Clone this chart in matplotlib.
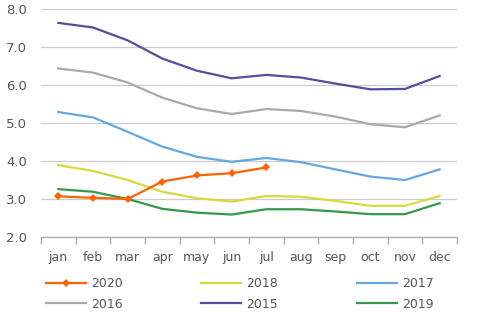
import matplotlib
matplotlib.use("Agg")
import matplotlib.pyplot as plt
import numpy as np

months = ["jan", "feb", "mar", "apr", "may", "jun", "jul", "aug", "sep", "oct", "nov", "dec"]

y2015 = [7.64, 7.52, 7.18, 6.70, 6.38, 6.18, 6.27, 6.20, 6.04, 5.89, 5.90, 6.24]
y2016 = [6.44, 6.33, 6.07, 5.67, 5.39, 5.24, 5.37, 5.32, 5.17, 4.97, 4.89, 5.20]
y2017 = [5.29, 5.15, 4.77, 4.38, 4.11, 3.98, 4.08, 3.97, 3.78, 3.59, 3.50, 3.78]
y2018 = [3.89, 3.74, 3.50, 3.19, 3.02, 2.93, 3.08, 3.06, 2.95, 2.82, 2.82, 3.08]
y2019 = [3.26, 3.19, 3.00, 2.74, 2.64, 2.59, 2.73, 2.73, 2.67, 2.60, 2.60, 2.89]
y2020 = [3.07, 3.03, 3.00, 3.46, 3.62, 3.68, 3.83]

text_color = "#555555"
plt.rcParams["font.family"] = ["DejaVu Sans"]

fig = plt.figure(figsize=(4.8, 3.3), dpi=100)
ax = fig.add_axes([0.0854, 0.282, 0.8666, 0.69])

x = np.arange(len(months))
l2015, = ax.plot(x, y2015, color="#524f9e", lw=1.6, label="2015")
l2016, = ax.plot(x, y2016, color="#a9a9a9", lw=1.6, label="2016")
l2017, = ax.plot(x, y2017, color="#63a9df", lw=1.6, label="2017")
l2018, = ax.plot(x, y2018, color="#d3dc3e", lw=1.6, label="2018")
l2019, = ax.plot(x, y2019, color="#33994a", lw=1.6, label="2019")
l2020, = ax.plot(x[:len(y2020)], y2020, color="#ff6200", lw=1.6, marker="D",
                 markersize=4.5, markeredgewidth=0, label="2020")

ax.set_xlim(-0.5, 11.5)
ax.set_ylim(2.0, 8.0)
ax.set_yticks(np.arange(2, 8.1, 1))
ax.set_yticklabels([f"{v:.1f}" for v in np.arange(2, 8.1, 1)])
ax.grid(axis="y", color="#cccccc", lw=0.9)
ax.set_axisbelow(True)

ax.set_xticks(x)
ax.set_xticklabels(months)
ax.set_xticks(np.arange(-0.5, 12, 1), minor=True)
ax.tick_params(axis="x", which="major", length=0, pad=10, labelsize=9, colors=text_color)
ax.tick_params(axis="x", which="minor", length=5, width=0.9, color="#aaaaaa")
ax.tick_params(axis="y", length=0, pad=10, labelsize=9.5, colors=text_color)

for s in ["top", "right", "left"]:
    ax.spines[s].set_visible(False)
ax.spines["bottom"].set_color("#aaaaaa")
ax.spines["bottom"].set_linewidth(0.9)

handles = [l2020, l2016, l2018, l2015, l2017, l2019]
leg = fig.legend(handles, [h.get_label() for h in handles], ncol=3,
                 loc="upper left", bbox_to_anchor=(0.085, 0.175), frameon=False,
                 fontsize=9, handlelength=3.2, columnspacing=6.3, handletextpad=0.4,
                 labelspacing=0.6, borderaxespad=0)
for t in leg.get_texts():
    t.set_color(text_color)

fig.savefig("out.png", dpi=100)
